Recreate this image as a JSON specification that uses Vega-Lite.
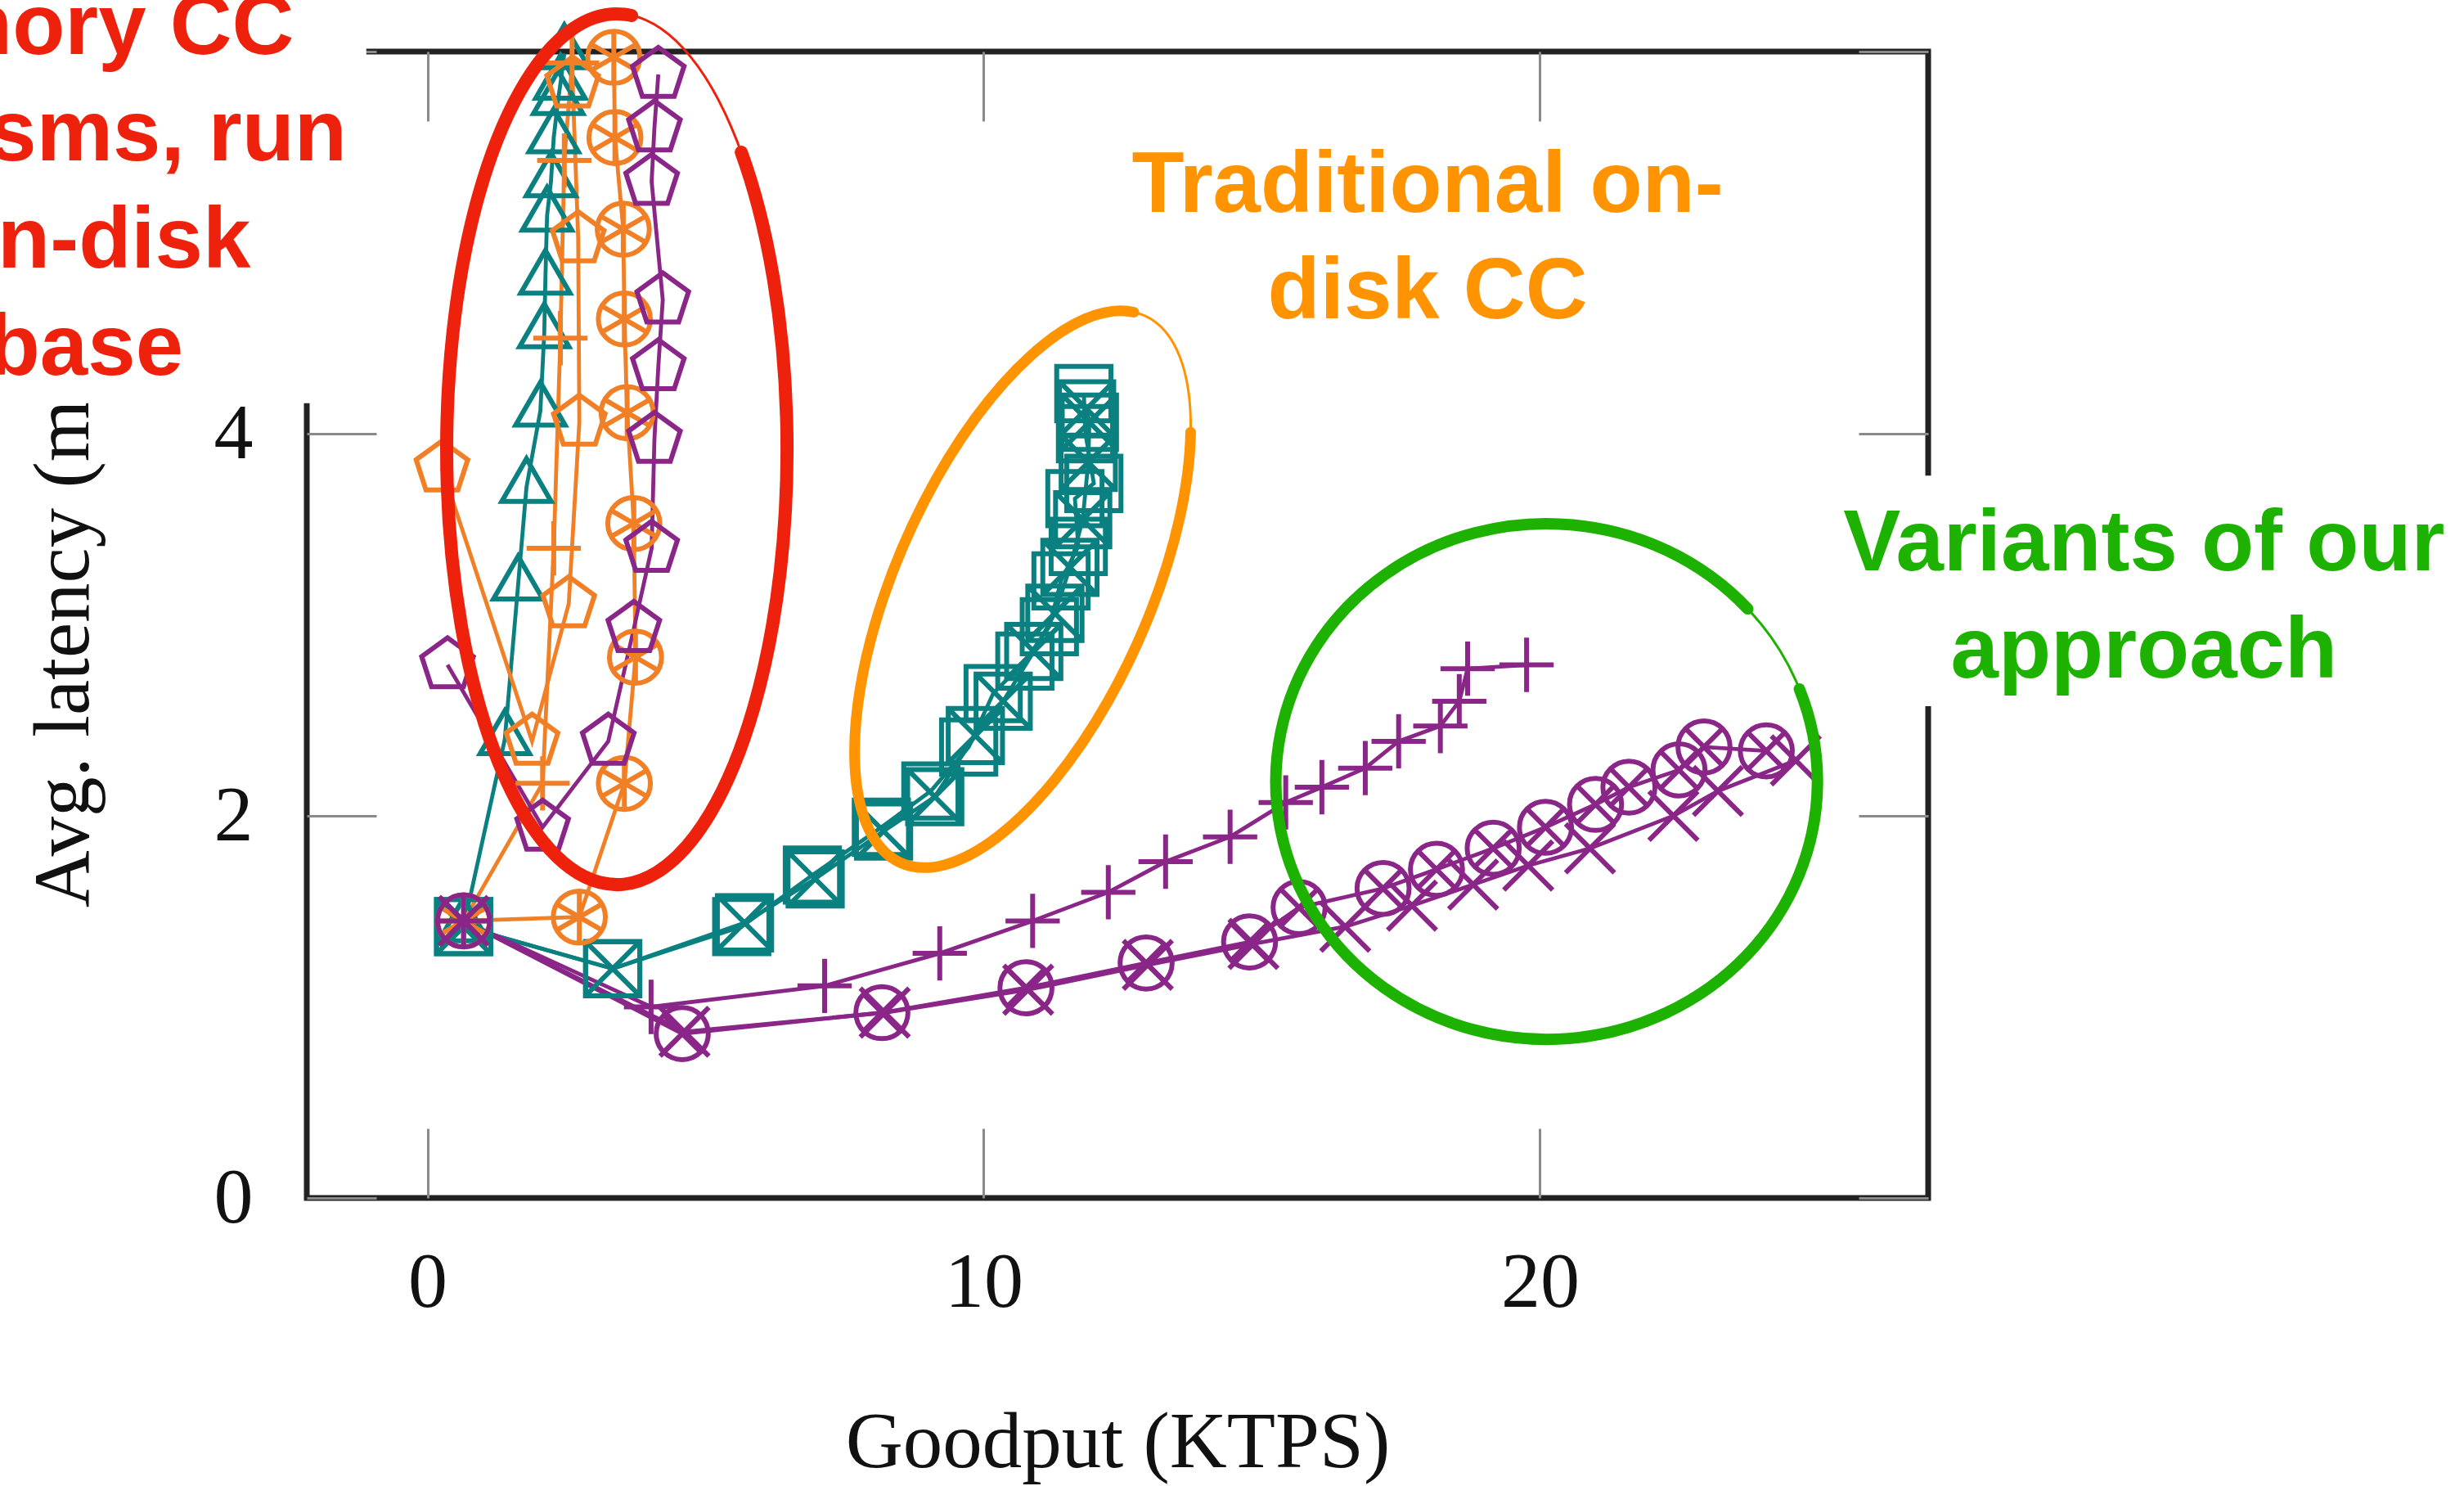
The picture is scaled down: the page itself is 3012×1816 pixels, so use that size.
{
  "$schema": "https://vega.github.io/schema/vega-lite/v6.json",
  "autosize": {"type": "none"},
  "width": 1982,
  "height": 1401,
  "padding": {"left": 375, "top": 63, "right": 655, "bottom": 352},
  "background": "white",
  "config": {
    "view": {"stroke": "#222222", "strokeWidth": 7},
    "axis": {"grid": false, "labelFont": "Liberation Serif", "titleFont": "Liberation Serif", "labelColor": "#111111", "titleColor": "#111111", "titleFontWeight": "normal"}
  },
  "datasets": {
    "pts": [
      {"s":"tsq","i":0,"x":0.65,"y":1.42},{"s":"tsq","i":1,"x":3.33,"y":1.2},{"s":"tsq","i":2,"x":5.65,"y":1.42},{"s":"tsq","i":3,"x":6.92,"y":1.69},{"s":"tsq","i":4,"x":8.16,"y":1.94},{"s":"tsq","i":5,"x":9.05,"y":2.13},{"s":"tsq","i":6,"x":9.73,"y":2.36},{"s":"tsq","i":7,"x":10.17,"y":2.64},{"s":"tsq","i":8,"x":10.74,"y":2.81},{"s":"tsq","i":9,"x":11.18,"y":2.99},{"s":"tsq","i":10,"x":11.39,"y":3.23},{"s":"tsq","i":11,"x":11.7,"y":3.41},{"s":"tsq","i":12,"x":11.64,"y":3.66},{"s":"tsq","i":13,"x":11.98,"y":3.74},{"s":"tsq","i":14,"x":11.83,"y":4.0},{"s":"tsq","i":15,"x":11.8,"y":4.21},
      {"s":"tsx","i":0,"x":0.65,"y":1.42},{"s":"tsx","i":1,"x":3.33,"y":1.2},{"s":"tsx","i":2,"x":5.7,"y":1.44},{"s":"tsx","i":3,"x":6.97,"y":1.67},{"s":"tsx","i":4,"x":8.2,"y":1.92},{"s":"tsx","i":5,"x":9.12,"y":2.1},{"s":"tsx","i":6,"x":9.85,"y":2.42},{"s":"tsx","i":7,"x":10.35,"y":2.6},{"s":"tsx","i":8,"x":10.9,"y":2.86},{"s":"tsx","i":9,"x":11.28,"y":3.06},{"s":"tsx","i":10,"x":11.55,"y":3.3},{"s":"tsx","i":11,"x":11.78,"y":3.55},{"s":"tsx","i":12,"x":11.88,"y":3.85},{"s":"tsx","i":13,"x":11.9,"y":4.06},{"s":"tsx","i":14,"x":11.85,"y":4.13},
      {"s":"ttri","i":0,"x":0.65,"y":1.42},{"s":"ttri","i":1,"x":1.39,"y":2.4},{"s":"ttri","i":2,"x":1.63,"y":3.21},{"s":"ttri","i":3,"x":1.78,"y":3.72},{"s":"ttri","i":4,"x":2.03,"y":4.12},{"s":"ttri","i":5,"x":2.1,"y":4.53},{"s":"ttri","i":6,"x":2.12,"y":4.81},{"s":"ttri","i":7,"x":2.15,"y":5.14},{"s":"ttri","i":8,"x":2.22,"y":5.32},{"s":"ttri","i":9,"x":2.27,"y":5.55},{"s":"ttri","i":10,"x":2.35,"y":5.75},{"s":"ttri","i":11,"x":2.39,"y":5.83},{"s":"ttri","i":12,"x":2.46,"y":5.99},
      {"s":"oplus","i":0,"x":0.65,"y":1.45},{"s":"oplus","i":1,"x":2.07,"y":2.17},{"s":"oplus","i":2,"x":2.27,"y":3.4},{"s":"oplus","i":3,"x":2.39,"y":4.5},{"s":"oplus","i":4,"x":2.46,"y":5.43},{"s":"oplus","i":5,"x":2.6,"y":5.94},
      {"s":"opent","i":0,"x":0.26,"y":3.82},{"s":"opent","i":1,"x":1.88,"y":2.39},{"s":"opent","i":2,"x":2.54,"y":3.11},{"s":"opent","i":3,"x":2.73,"y":4.06},{"s":"opent","i":4,"x":2.71,"y":5.02},{"s":"opent","i":5,"x":2.61,"y":5.83},
      {"s":"ocirc","i":0,"x":0.65,"y":1.45},{"s":"ocirc","i":1,"x":2.73,"y":1.47},{"s":"ocirc","i":2,"x":3.54,"y":2.17},{"s":"ocirc","i":3,"x":3.74,"y":2.83},{"s":"ocirc","i":4,"x":3.71,"y":3.53},{"s":"ocirc","i":5,"x":3.59,"y":4.11},{"s":"ocirc","i":6,"x":3.54,"y":4.6},{"s":"ocirc","i":7,"x":3.52,"y":5.07},{"s":"ocirc","i":8,"x":3.37,"y":5.55},{"s":"ocirc","i":9,"x":3.35,"y":5.97},
      {"s":"ppent","i":0,"x":0.36,"y":2.79},{"s":"ppent","i":1,"x":2.07,"y":1.94},{"s":"ppent","i":2,"x":3.25,"y":2.39},{"s":"ppent","i":3,"x":3.71,"y":2.98},{"s":"ppent","i":4,"x":4.03,"y":3.4},{"s":"ppent","i":5,"x":4.08,"y":3.97},{"s":"ppent","i":6,"x":4.15,"y":4.35},{"s":"ppent","i":7,"x":4.23,"y":4.7},{"s":"ppent","i":8,"x":4.03,"y":5.32},{"s":"ppent","i":9,"x":4.08,"y":5.6},{"s":"ppent","i":10,"x":4.15,"y":5.88},
      {"s":"pplus","i":0,"x":0.65,"y":1.45},{"s":"pplus","i":1,"x":4.02,"y":1.0},{"s":"pplus","i":2,"x":7.14,"y":1.11},{"s":"pplus","i":3,"x":9.21,"y":1.28},{"s":"pplus","i":4,"x":10.88,"y":1.45},{"s":"pplus","i":5,"x":12.24,"y":1.6},{"s":"pplus","i":6,"x":13.27,"y":1.76},{"s":"pplus","i":7,"x":14.43,"y":1.89},{"s":"pplus","i":8,"x":15.43,"y":2.07},{"s":"pplus","i":9,"x":16.08,"y":2.15},{"s":"pplus","i":10,"x":16.86,"y":2.25},{"s":"pplus","i":11,"x":17.46,"y":2.39},{"s":"pplus","i":12,"x":18.21,"y":2.47},{"s":"pplus","i":13,"x":18.55,"y":2.6},{"s":"pplus","i":14,"x":18.7,"y":2.77},{"s":"pplus","i":15,"x":19.76,"y":2.79},
      {"s":"pcirc","i":0,"x":0.65,"y":1.45},{"s":"pcirc","i":1,"x":4.58,"y":0.86},{"s":"pcirc","i":2,"x":8.17,"y":0.97},{"s":"pcirc","i":3,"x":10.76,"y":1.1},{"s":"pcirc","i":4,"x":12.92,"y":1.23},{"s":"pcirc","i":5,"x":14.78,"y":1.34},{"s":"pcirc","i":6,"x":15.67,"y":1.52},{"s":"pcirc","i":7,"x":17.18,"y":1.62},{"s":"pcirc","i":8,"x":18.14,"y":1.72},{"s":"pcirc","i":9,"x":19.16,"y":1.83},{"s":"pcirc","i":10,"x":20.1,"y":1.94},{"s":"pcirc","i":11,"x":21.0,"y":2.06},{"s":"pcirc","i":12,"x":21.6,"y":2.15},{"s":"pcirc","i":13,"x":22.5,"y":2.24},{"s":"pcirc","i":14,"x":22.95,"y":2.36},{"s":"pcirc","i":15,"x":24.07,"y":2.34},
      {"s":"px","i":0,"x":0.65,"y":1.45},{"s":"px","i":1,"x":4.62,"y":0.87},{"s":"px","i":2,"x":8.22,"y":0.97},{"s":"px","i":3,"x":10.8,"y":1.09},{"s":"px","i":4,"x":12.95,"y":1.22},{"s":"px","i":5,"x":14.85,"y":1.33},{"s":"px","i":6,"x":16.5,"y":1.42},{"s":"px","i":7,"x":17.7,"y":1.53},{"s":"px","i":8,"x":18.8,"y":1.64},{"s":"px","i":9,"x":19.79,"y":1.74},{"s":"px","i":10,"x":20.9,"y":1.83},{"s":"px","i":11,"x":22.4,"y":2.0},{"s":"px","i":12,"x":23.2,"y":2.13},{"s":"px","i":13,"x":24.6,"y":2.29}
    ],
    "boxes": [
      {"x":-9,"x2":-1.1,"y":4.16,"y2":6.5},
      {"x":25.3,"x2":40,"y":2.574,"y2":3.781}
    ],
    "redtext": [
      {"t":"In-memory CC","x":-2.4,"y":5.987},
      {"t":"mechanisms, run","x":-1.45,"y":5.43},
      {"t":"in an on-disk","x":-3.18,"y":4.87},
      {"t":"database","x":-4.39,"y":4.31}
    ],
    "orangetext": [
      {"t":"Traditional on-","x":17.98,"y":5.161},
      {"t":"disk CC","x":17.98,"y":4.604}
    ],
    "greentext": [
      {"t":"Variants of our","x":30.86,"y":3.285},
      {"t":"approach","x":30.86,"y":2.724}
    ]
  },
  "resolve": {"axis": {"x": "independent", "y": "independent"}},
  "layer": [
    {
      "data": {"name": "pts"},
      "mark": {"type": "line", "strokeWidth": 4.8},
      "encoding": {
        "x": {"field": "x", "type": "quantitative", "scale": {"domain": [-2.17, 26.98], "nice": false, "zero": false},
              "axis": {"orient": "bottom", "values": [0, 10, 20], "ticks": false, "tickSize": 0, "domain": false, "labelPadding": 56, "labelFontSize": 96, "title": "Goodput (KTPS)", "titleFontSize": 97, "titlePadding": 100}},
        "y": {"field": "y", "type": "quantitative", "scale": {"domain": [0, 6], "nice": false, "zero": false},
              "axis": {"orient": "left", "values": [0, 2, 4], "ticks": false, "tickSize": 0, "domain": false, "labelPadding": 66, "labelFontSize": 96, "title": "Avg. latency (ms)", "titleFontSize": 97, "titlePadding": 134}},
        "color": {"field": "s", "type": "nominal", "legend": null,
                  "scale": {"domain": ["tsq","tsx","ttri","oplus","opent","ocirc","ppent","pplus","pcirc","px"],
                            "range": ["#0a8080","#0a8080","#0a8080","#f07f26","#f07f26","#f07f26","#8a2687","#8a2687","#8a2687","#8a2687"]}},
        "order": {"field": "i", "type": "quantitative"}
      }
    },
    {
      "data": {"name": "pts"},
      "mark": {"type": "point", "filled": false, "size": 4400, "strokeWidth": 6, "opacity": 1},
      "encoding": {
        "x": {"field": "x", "type": "quantitative", "scale": {"domain": [-2.17, 26.98], "nice": false, "zero": false},
              "axis": {"orient": "bottom", "offset": -85, "values": [0, 10, 20], "tickSize": 85, "tickColor": "#8a8a8a", "tickWidth": 3, "labels": false, "domain": false, "title": null}},
        "y": {"field": "y", "type": "quantitative", "scale": {"domain": [0, 6], "nice": false, "zero": false},
              "axis": {"orient": "left", "offset": -85, "values": [0, 2, 4, 6], "tickSize": 85, "tickColor": "#8a8a8a", "tickWidth": 3, "labels": false, "domain": false, "title": null}},
        "color": {"field": "s", "type": "nominal", "legend": null,
                  "scale": {"domain": ["tsq","tsx","ttri","oplus","opent","ocirc","ppent","pplus","pcirc","px"],
                            "range": ["#0a8080","#0a8080","#0a8080","#f07f26","#f07f26","#f07f26","#8a2687","#8a2687","#8a2687","#8a2687"]}},
        "shape": {"field": "s", "type": "nominal", "legend": null,
                  "scale": {"domain": ["tsq","tsx","ttri","oplus","opent","ocirc","ppent","pplus","pcirc","px"],
                            "range": [
                              "M-1,-1H1V1H-1Z",
                              "M-1,-1H1V1H-1Z M-1,-1L1,1 M-1,1L1,-1",
                              "M0,-1.05L0.909,0.525L-0.909,0.525Z",
                              "M-1,0H1M0,-1V1",
                              "M0,-1L0.951,-0.309L0.588,0.809L-0.588,0.809L-0.951,-0.309Z",
                              "M0.96,0A0.96,0.96 0 1,1 -0.96,0A0.96,0.96 0 1,1 0.96,0Z M0,-0.96V0.96 M-0.83,-0.48L0.83,0.48 M-0.83,0.48L0.83,-0.48",
                              "M0,-1L0.951,-0.309L0.588,0.809L-0.588,0.809L-0.951,-0.309Z",
                              "M-1,0H1M0,-1V1",
                              "M0.96,0A0.96,0.96 0 1,1 -0.96,0A0.96,0.96 0 1,1 0.96,0Z M-0.68,-0.68L0.68,0.68 M-0.68,0.68L0.68,-0.68",
                              "M-0.9,-0.9L0.9,0.9M-0.9,0.9L0.9,-0.9"
                            ]}}
      }
    },
    {
      "data": {"values": [{"x": 3.404, "y": 3.919}]},
      "mark": {"type": "point", "filled": false, "opacity": 1, "stroke": "#ee220c", "strokeWidth": 3, "size": 1132096,
               "shape": "M0.391,0A0.391,1 0 1,1 -0.391,0A0.391,1 0 1,1 0.391,0Z"},
      "encoding": {
        "x": {"field": "x", "type": "quantitative", "scale": {"domain": [-2.17, 26.98], "nice": false, "zero": false},
              "axis": {"orient": "top", "offset": -85, "values": [0, 10, 20], "tickSize": 85, "tickColor": "#8a8a8a", "tickWidth": 3, "labels": false, "domain": false, "title": null}},
        "y": {"field": "y", "type": "quantitative", "scale": {"domain": [0, 6], "nice": false, "zero": false},
              "axis": {"orient": "right", "offset": -85, "values": [0, 2, 4, 6], "tickSize": 85, "tickColor": "#8a8a8a", "tickWidth": 3, "labels": false, "domain": false, "title": null}}
      }
    },
    {
      "data": {"values": [{"x": 3.404, "y": 3.919}]},
      "mark": {"type": "point", "filled": false, "opacity": 1, "stroke": "#ee220c", "strokeWidth": 16, "strokeCap": "round", "size": 1132096,
               "shape": "M0.286,-0.682A0.391,1 0 1,1 0.034,-0.996"},
      "encoding": {
        "x": {"field": "x", "type": "quantitative", "scale": {"domain": [-2.17, 26.98], "nice": false, "zero": false}, "axis": null},
        "y": {"field": "y", "type": "quantitative", "scale": {"domain": [0, 6], "nice": false, "zero": false}, "axis": null}
      }
    },
    {
      "data": {"values": [{"x": 10.7, "y": 3.186}]},
      "mark": {"type": "point", "filled": false, "opacity": 1, "stroke": "#ff9300", "strokeWidth": 3, "size": 535824, "angle": 24,
               "shape": "M0.4235,0A0.4235,1 0 1,1 -0.4235,0A0.4235,1 0 1,1 0.4235,0Z"},
      "encoding": {
        "x": {"field": "x", "type": "quantitative", "scale": {"domain": [-2.17, 26.98], "nice": false, "zero": false}, "axis": null},
        "y": {"field": "y", "type": "quantitative", "scale": {"domain": [0, 6], "nice": false, "zero": false}, "axis": null}
      }
    },
    {
      "data": {"values": [{"x": 10.7, "y": 3.186}]},
      "mark": {"type": "point", "filled": false, "opacity": 1, "stroke": "#ff9300", "strokeWidth": 13, "strokeCap": "round", "size": 535824, "angle": 24,
               "shape": "M0.2995,-0.7071A0.4235,1 0 1,1 -0.0369,-0.9962"},
      "encoding": {
        "x": {"field": "x", "type": "quantitative", "scale": {"domain": [-2.17, 26.98], "nice": false, "zero": false}, "axis": null},
        "y": {"field": "y", "type": "quantitative", "scale": {"domain": [0, 6], "nice": false, "zero": false}, "axis": null}
      }
    },
    {
      "data": {"values": [{"x": 20.12, "y": 2.18}]},
      "mark": {"type": "point", "filled": false, "opacity": 1, "stroke": "#1db100", "strokeWidth": 3, "size": 438244,
               "shape": "M1,0A1,0.952 0 1,1 -1,0A1,0.952 0 1,1 1,0Z"},
      "encoding": {
        "x": {"field": "x", "type": "quantitative", "scale": {"domain": [-2.17, 26.98], "nice": false, "zero": false}, "axis": null},
        "y": {"field": "y", "type": "quantitative", "scale": {"domain": [0, 6], "nice": false, "zero": false}, "axis": null}
      }
    },
    {
      "data": {"values": [{"x": 20.12, "y": 2.18}]},
      "mark": {"type": "point", "filled": false, "opacity": 1, "stroke": "#1db100", "strokeWidth": 14, "strokeCap": "round", "size": 438244,
               "shape": "M0.9336,-0.3412A1,0.952 0 1,1 0.7431,-0.637"},
      "encoding": {
        "x": {"field": "x", "type": "quantitative", "scale": {"domain": [-2.17, 26.98], "nice": false, "zero": false}, "axis": null},
        "y": {"field": "y", "type": "quantitative", "scale": {"domain": [0, 6], "nice": false, "zero": false}, "axis": null}
      }
    },
    {
      "data": {"name": "boxes"},
      "mark": {"type": "rect", "fill": "white", "stroke": null},
      "encoding": {
        "x": {"field": "x", "type": "quantitative", "scale": {"domain": [-2.17, 26.98], "nice": false, "zero": false}, "axis": null},
        "x2": {"field": "x2"},
        "y": {"field": "y", "type": "quantitative", "scale": {"domain": [0, 6], "nice": false, "zero": false}, "axis": null},
        "y2": {"field": "y2"}
      }
    },
    {
      "data": {"name": "redtext"},
      "mark": {"type": "text", "align": "right", "baseline": "alphabetic", "font": "Liberation Sans", "fontWeight": "bold", "fontSize": 105, "fill": "#ee220c"},
      "encoding": {
        "x": {"field": "x", "type": "quantitative", "scale": {"domain": [-2.17, 26.98], "nice": false, "zero": false}, "axis": null},
        "y": {"field": "y", "type": "quantitative", "scale": {"domain": [0, 6], "nice": false, "zero": false}, "axis": null},
        "text": {"field": "t"}
      }
    },
    {
      "data": {"name": "orangetext"},
      "mark": {"type": "text", "align": "center", "baseline": "alphabetic", "font": "Liberation Sans", "fontWeight": "bold", "fontSize": 105, "fill": "#ff9300"},
      "encoding": {
        "x": {"field": "x", "type": "quantitative", "scale": {"domain": [-2.17, 26.98], "nice": false, "zero": false}, "axis": null},
        "y": {"field": "y", "type": "quantitative", "scale": {"domain": [0, 6], "nice": false, "zero": false}, "axis": null},
        "text": {"field": "t"}
      }
    },
    {
      "data": {"name": "greentext"},
      "mark": {"type": "text", "align": "center", "baseline": "alphabetic", "font": "Liberation Sans", "fontWeight": "bold", "fontSize": 105, "fill": "#1db100"},
      "encoding": {
        "x": {"field": "x", "type": "quantitative", "scale": {"domain": [-2.17, 26.98], "nice": false, "zero": false}, "axis": null},
        "y": {"field": "y", "type": "quantitative", "scale": {"domain": [0, 6], "nice": false, "zero": false}, "axis": null},
        "text": {"field": "t"}
      }
    }
  ]
}
